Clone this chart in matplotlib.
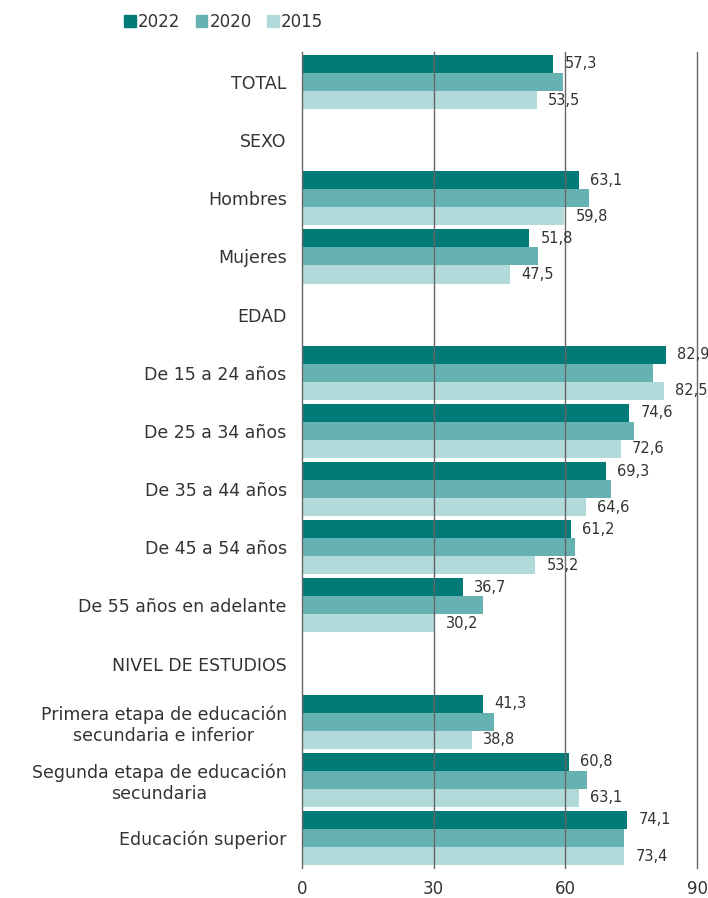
import matplotlib.pyplot as plt
import numpy as np
from matplotlib.patches import Patch

plt.rcParams['font.family'] = ['DejaVu Sans']

categories = [
    "TOTAL", "SEXO", "Hombres", "Mujeres", "EDAD",
    "De 15 a 24 años", "De 25 a 34 años", "De 35 a 44 años",
    "De 45 a 54 años", "De 55 años en adelante", "NIVEL DE ESTUDIOS",
    "Primera etapa de educación\nsecundaria e inferior",
    "Segunda etapa de educación\nsecundaria",
    "Educación superior",
]
# None = section header row (no bars)
v2022 = [57.3, None, 63.1, 51.8, None, 82.9, 74.6, 69.3, 61.2, 36.7, None, 41.3, 60.8, 74.1]
v2020 = [59.4, None, 65.4, 53.8, None, 80.0, 75.6, 70.4, 62.2, 41.3, None, 43.8, 65.0, 73.4]
v2015 = [53.5, None, 59.8, 47.5, None, 82.5, 72.6, 64.6, 53.2, 30.2, None, 38.8, 63.1, 73.4]
years = ["2022", "2020", "2015"]
colors = ["#007b78", "#66b2b2", "#b3dada"]
xticks = [0, 30, 60, 90]

text_col = "#333333"
grid_col = "#666666"


def to_arr(vals):
    return np.array([np.nan if v is None else v for v in vals], dtype=float)


fig = plt.figure(figsize=(7.08, 8.98), dpi=100)
ax = fig.add_axes([302 / 708, 1 - 868 / 898, (697 - 302) / 708, (868 - 52) / 898])

y = np.arange(len(categories))
h = 0.31
series = [to_arr(v2022), to_arr(v2020), to_arr(v2015)]
offsets = [-h, 0, h]
for vals, off, col in zip(series, offsets, colors):
    ax.barh(y + off, np.nan_to_num(vals), height=h, color=col, zorder=1)

# value labels for 2022 and 2015
fmt = lambda v: f"{v:.1f}".replace(".", ",")
for vals, off in [(series[0], -h), (series[2], h)]:
    for yi, v in zip(y, vals):
        if np.isnan(v):
            continue
        ax.annotate(fmt(v), (v, yi + off), xytext=(8, 0), textcoords="offset points",
                    va="center", ha="left", fontsize=10.5, color=text_col,
                    annotation_clip=False)

ax.set_xlim(0, 90)
ax.set_ylim(len(categories) - 1 + 0.516, -0.516)
ax.set_xticks(xticks)
ax.set_yticks(y)
ax.set_yticklabels(categories)
for t in ax.get_yticklabels():
    t.set_multialignment("center")

for xv in xticks:
    ax.axvline(xv, color=grid_col, lw=1, zorder=2, clip_on=False)

for s in ax.spines.values():
    s.set_visible(False)
ax.tick_params(axis="y", length=0, pad=11, labelsize=12.5, labelcolor=text_col)
ax.tick_params(axis="x", length=0, pad=9, labelsize=12, labelcolor=text_col)

handles = [Patch(color=c) for c in colors]
fig.legend(handles, years, loc="center left", bbox_to_anchor=(124 / 708, 1 - 22 / 898),
           ncol=3, frameon=False, fontsize=12, handlelength=0.7, handleheight=0.7,
           handletextpad=0.15, columnspacing=0.9, borderpad=0, borderaxespad=0,
           labelcolor=text_col)

fig.savefig("out.png", dpi=100)
